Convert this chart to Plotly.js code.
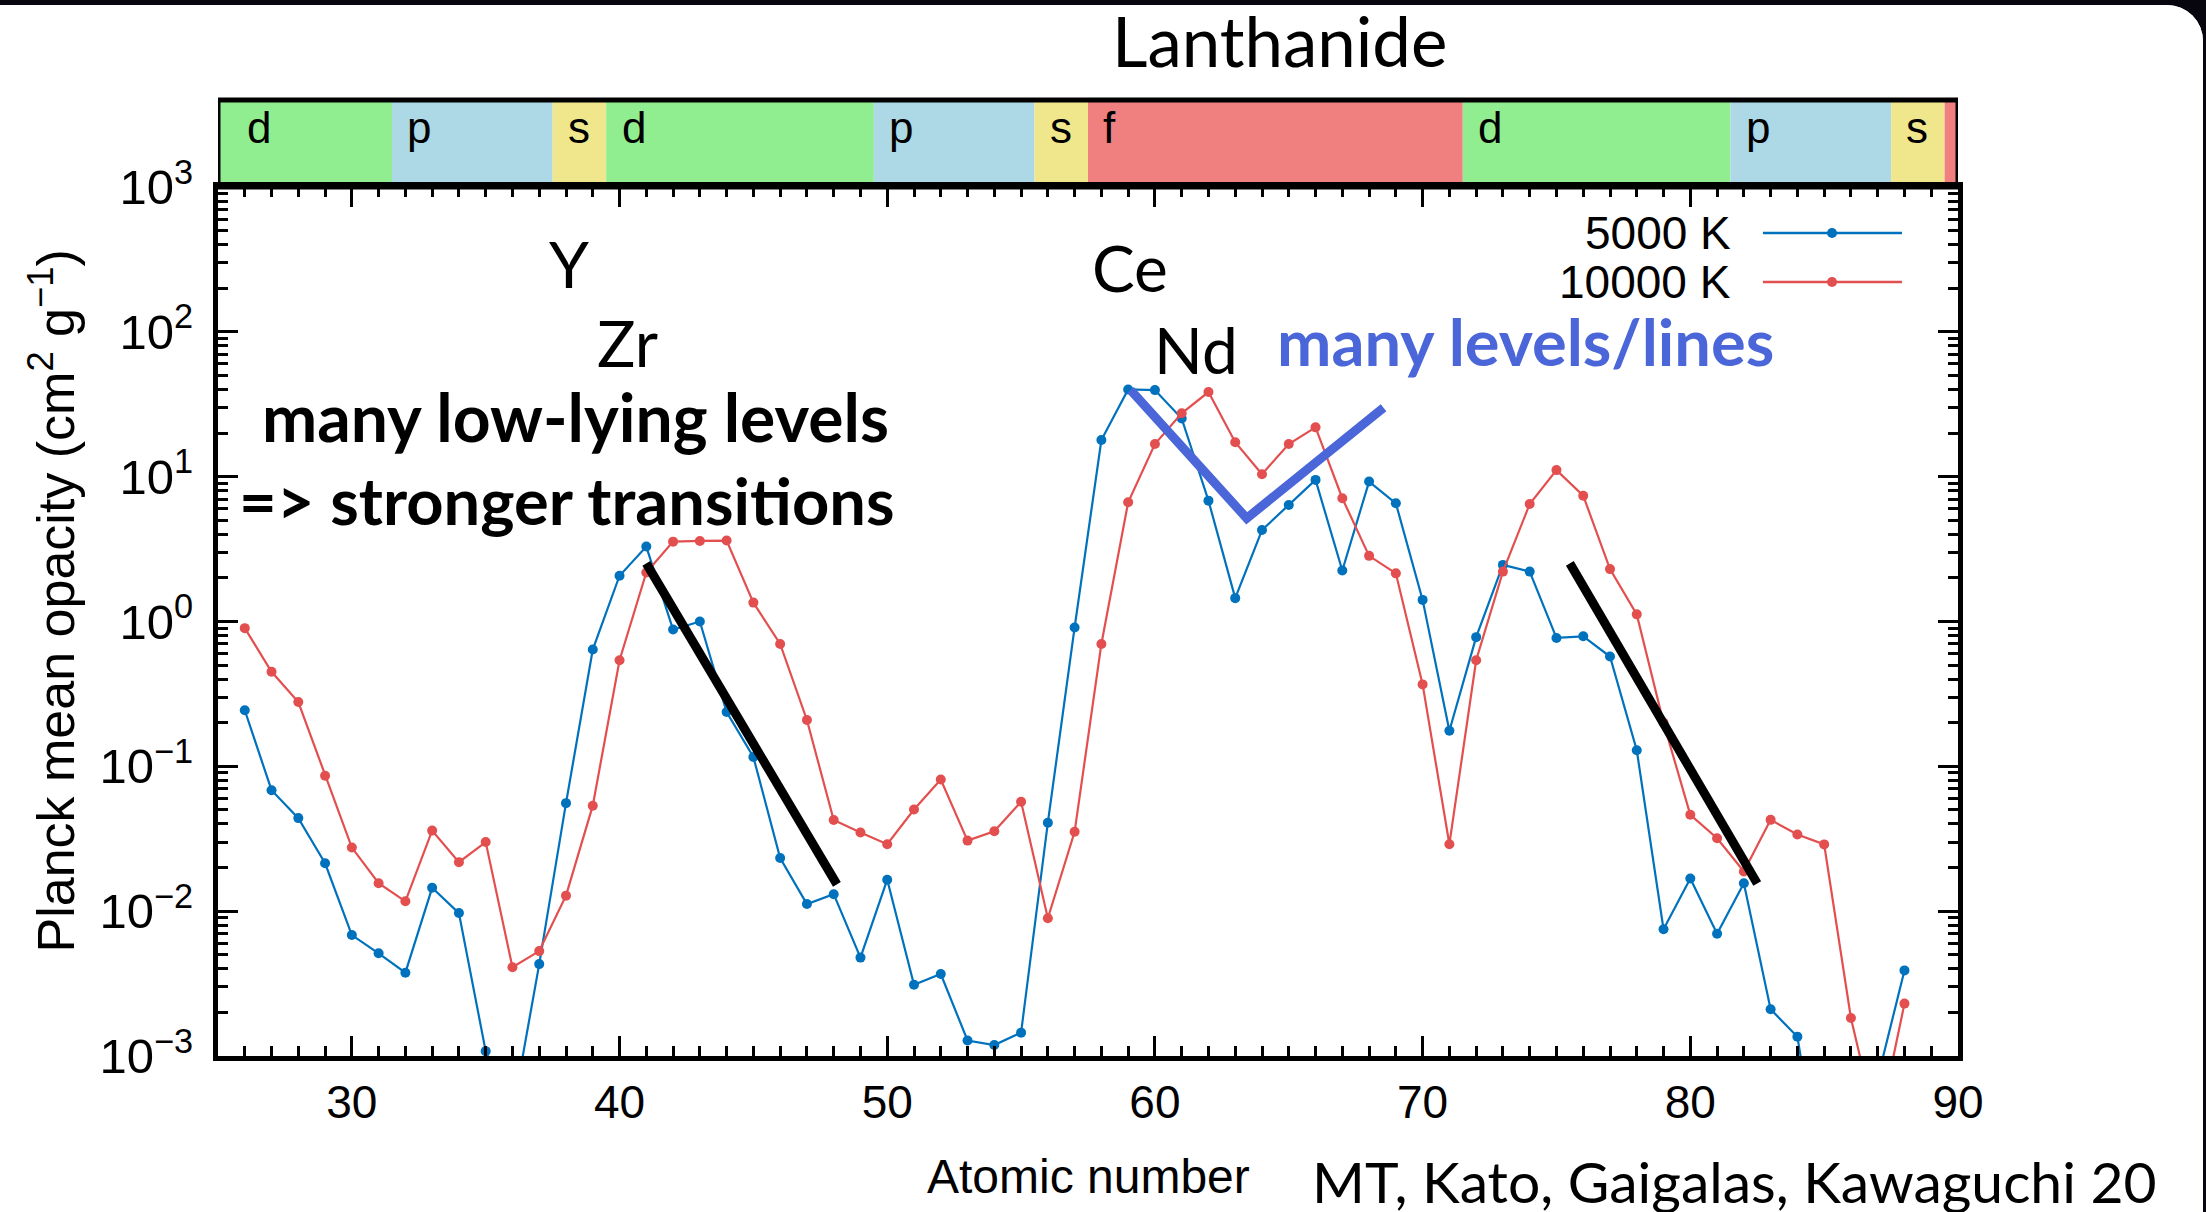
<!DOCTYPE html>
<html><head><meta charset="utf-8">
<script src="https://cdn.plot.ly/plotly-3.0.1.min.js"></script>
<style>
html,body{margin:0;padding:0;background:#07060f;width:2206px;height:1212px;overflow:hidden}
#chart{position:absolute;left:0;top:0;width:2206px;height:1212px;background:#fff;clip-path:inset(5px 3px 0px 0px round 0px 36px 0px 0px)}
</style></head><body><div id="chart"></div>
<script>
// ---- data ----
const atomicNumber = [26,27,28,29,30,31,32,33,34,35,36,37,38,39,40,41,42,43,44,45,46,47,48,49,50,51,52,53,54,55,56,57,58,59,60,61,62,63,64,65,66,67,68,69,70,71,72,73,74,75,76,77,78,79,80,81,82,83,84,85,86,87,88];
const opacity5000K = [0.244,0.0684,0.0439,0.0214,0.00684,0.00512,0.00376,0.0145,0.0097,0.00108,0.0004,0.00431,0.0557,0.64,2.07,3.29,0.88,1.0,0.237,0.116,0.0233,0.0112,0.0131,0.00478,0.0165,0.0031,0.00368,0.00128,0.00119,0.00145,0.0408,0.91,17.9,40.0,39.6,25.2,6.83,1.45,4.28,6.38,9.5,2.25,9.25,6.55,1.41,0.176,0.78,2.46,2.21,0.77,0.79,0.573,0.129,0.0075,0.0168,0.00698,0.0156,0.0021,0.00136,0.0001,0.00015,0.0007,0.0039];
const opacity10000K = [0.90,0.45,0.278,0.086,0.0275,0.0156,0.0117,0.036,0.0218,0.030,0.0041,0.0053,0.0128,0.0535,0.54,2.18,3.56,3.6,3.62,1.35,0.70,0.209,0.0426,0.0349,0.029,0.0503,0.0811,0.0307,0.0356,0.0569,0.00893,0.0353,0.70,6.65,16.8,27.4,38.4,17.3,10.4,16.8,21.9,7.1,2.84,2.15,0.368,0.029,0.54,2.21,6.47,11.1,7.39,2.30,1.12,0.2,0.0463,0.0319,0.0188,0.0427,0.0338,0.0289,0.00183,0.0003,0.0023];
const seriesNames = ['5000 K','10000 K'];

// block band (atomic-number ranges)
const blockStart = [25,31.5,37.5,39.5,49.5,55.5,57.5,71.5,81.5,87.5,89.5];
const blockEnd   = [31.5,37.5,39.5,49.5,55.5,57.5,71.5,81.5,87.5,89.5,90];
const blockType  = ['d','p','s','d','p','s','f','d','p','s','f'];
const blockLabelX = [26.0,32.0,38.0,40.0,50.0,56.0,58.0,72.0,82.0,88.0,null];

// guide lines
const guide1X = [41.0,48.12], guide1Y = [2.52,0.0153];
const guide2X = [75.5,82.5],  guide2Y = [2.52,0.0155];
const vShapeX = [59.09,63.43,68.54], vShapeY = [39.6,5.16,29.9];

// ticks
const yTickVals = [1e-3,1e-2,1e-1,1,10,100,1000];
const yTickText = ['10<sup>−3</sup>','10<sup>−2</sup>','10<sup>−1</sup>','10<sup>0</sup>','10<sup>1</sup>','10<sup>2</sup>','10<sup>3</sup>'];

// ---- styles ----
const BLUE = '#0072bd', RED = '#e34f4f', VBLUE = '#4a66d8';
const blockColor = {d:'#90ee90', p:'#add8e6', s:'#f0e68c', f:'#f08080'};
const GNU = 'Liberation Sans, Arial, sans-serif';
const SLIDE = 'Lato, Carlito, Calibri, sans-serif';

const minorY = [];
for (let e = -3; e < 3; e++) for (let m = 2; m <= 9; m++) minorY.push(m * Math.pow(10, e));

const traces = [
  {x: atomicNumber, y: opacity5000K, name: seriesNames[0], mode: 'lines+markers',
   line: {color: BLUE, width: 2.2}, marker: {color: BLUE, size: 10}},
  {x: atomicNumber, y: opacity10000K, name: seriesNames[1], mode: 'lines+markers',
   line: {color: RED, width: 2.2}, marker: {color: RED, size: 10}},
  {x: guide1X, y: guide1Y, mode: 'lines', line: {color: '#000', width: 9}},
  {x: guide2X, y: guide2Y, mode: 'lines', line: {color: '#000', width: 9}},
  {x: vShapeX, y: vShapeY, mode: 'lines', line: {color: VBLUE, width: 9}}
];

const BAND_BOT = 0.9071, BAND_TOP = 0.9979;
const shapes = [];
for (let i = 0; i < blockStart.length; i++) {
  shapes.push({type: 'rect', xref: 'x', yref: 'paper', x0: blockStart[i], x1: blockEnd[i],
    y0: BAND_BOT, y1: BAND_TOP, fillcolor: blockColor[blockType[i]], line: {width: 0}, layer: 'below'});
}
shapes.push({type: 'rect', xref: 'x', yref: 'paper', x0: 25, x1: 90, y0: BAND_BOT, y1: BAND_TOP,
  line: {color: '#000', width: 5}, fillcolor: 'rgba(0,0,0,0)', layer: 'above'});

// legend samples
const legY = [0.8591, 0.8079], legCol = [BLUE, RED];
for (let i = 0; i < 2; i++) {
  shapes.push({type: 'line', xref: 'paper', yref: 'paper', x0: 0.8879, x1: 0.9678, y0: legY[i], y1: legY[i],
    line: {color: legCol[i], width: 2.5}});
  shapes.push({type: 'circle', xref: 'paper', yref: 'paper', xsizemode: 'pixel', ysizemode: 'pixel',
    xanchor: 0.9276, yanchor: legY[i], x0: -5, x1: 5, y0: -5, y1: 5,
    fillcolor: legCol[i], line: {color: legCol[i], width: 0}});
}

const annotations = [];
for (let i = 0; i < blockType.length; i++) {
  if (blockLabelX[i] === null) continue;
  annotations.push({xref: 'x', yref: 'paper', x: blockLabelX[i], y: 0.9687, xanchor: 'left', yanchor: 'middle',
    text: blockType[i], showarrow: false, font: {family: GNU, size: 44, color: '#000'}});
}
for (let i = 0; i < 2; i++) {
  annotations.push({xref: 'paper', yref: 'paper', x: 0.8707, y: legY[i], xanchor: 'right', yanchor: 'middle',
    text: seriesNames[i], showarrow: false, font: {family: GNU, size: 46, color: '#000'}});
}
const txt = (x, y, text, size, color, xref, yref) => ({xref: xref || 'x', yref: yref || 'y', x: x, y: y,
  xanchor: 'center', yanchor: 'middle', text: text, showarrow: false, font: {family: SLIDE, size: size, color: color || '#000'}});
annotations.push(
  txt(38.1, 2.47, 'Y', 64),
  txt(40.3, 1.925, 'Zr', 64),
  txt(59.07, 2.443, 'Ce', 64),
  txt(61.53, 1.876, 'Nd', 64),
  txt(73.84, 1.939, '<b>many levels/lines</b>', 65, VBLUE),
  txt(38.36, 1.417, '<b>many low-lying levels</b>', 66),
  txt(38.02, 0.84, '<b>=> stronger transitions</b>', 65),
  txt(0.6103, 1.060, 'Lanthanide', 69, '#000', 'paper', 'paper'),
  txt(0.8713, -0.130, 'MT, Kato, Gaigalas, Kawaguchi 20', 57, '#000', 'paper', 'paper')
);
annotations.push({xref: 'paper', yref: 'paper', x: 0.5, y: -0.1258, xanchor: 'center', yanchor: 'middle',
  text: 'Atomic number', showarrow: false, font: {family: GNU, size: 48, color: '#000'}});
annotations.push({xref: 'paper', yref: 'paper', x: -0.0951, y: 0.475, xanchor: 'center', yanchor: 'middle',
  textangle: -90, text: 'Planck mean opacity (cm<sup>2</sup> g<sup>−1</sup>)', showarrow: false,
  font: {family: GNU, size: 52, color: '#000'}});

const layout = {
  width: 2206, height: 1212,
  margin: {l: 218, r: 248, t: 98, b: 156},
  paper_bgcolor: '#fff', plot_bgcolor: '#fff',
  showlegend: false,
  xaxis: {range: [25, 90], tickmode: 'linear', tick0: 0, dtick: 10,
    ticks: 'inside', ticklen: 20, tickwidth: 3, tickcolor: '#000',
    showline: true, linewidth: 5, linecolor: '#000', mirror: 'ticks',
    showgrid: false, zeroline: false, ticklabelstandoff: 2,
    tickfont: {family: GNU, size: 46, color: '#000'},
    minor: {dtick: 1, tick0: 0, ticks: 'inside', ticklen: 10, tickwidth: 3, tickcolor: '#000', showgrid: false}},
  yaxis: {type: 'log', range: [-3, 3], domain: [0, BAND_BOT],
    tickmode: 'array', tickvals: yTickVals, ticktext: yTickText,
    ticks: 'inside', ticklen: 20, tickwidth: 3, tickcolor: '#000',
    showline: true, linewidth: 5, linecolor: '#000', mirror: 'ticks',
    showgrid: false, zeroline: false, ticklabelstandoff: 10,
    tickfont: {family: GNU, size: 49, color: '#000'},
    minor: {tickmode: 'array', tickvals: minorY, ticks: 'inside', ticklen: 10, tickwidth: 3, tickcolor: '#000', showgrid: false}},
  shapes: shapes,
  annotations: annotations
};

Plotly.newPlot('chart', traces, layout, {staticPlot: true, displayModeBar: false});
</script></body></html>
